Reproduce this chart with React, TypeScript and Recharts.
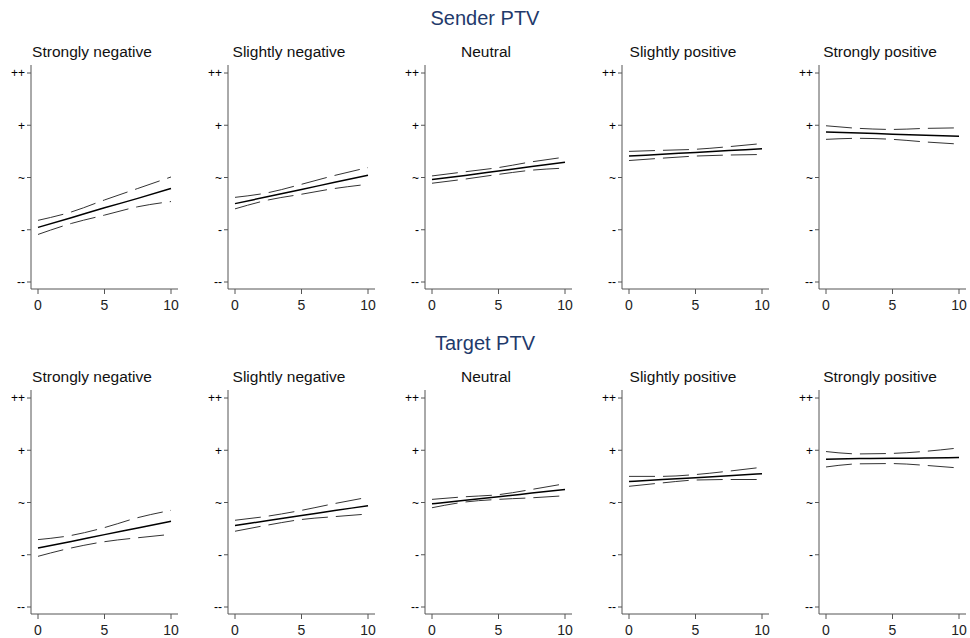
import { LineChart, Line, XAxis, YAxis } from 'recharts'

const xValues = [0, 2.5, 5, 7.5, 10]
const panelNames = ['Strongly negative', 'Slightly negative', 'Neutral', 'Slightly positive', 'Strongly positive']
const yTicks = [-2, -1, 0, 1, 2]
const yLabels = ['--', '-', '~', '+', '++']
const xTicks = [0, 5, 10]

// Sender PTV: fitted line and confidence bounds per panel
const senderFit = [
  [-0.955, -0.77, -0.58, -0.4, -0.21],
  [-0.5, -0.365, -0.23, -0.09, 0.045],
  [-0.04, 0.04, 0.125, 0.21, 0.29],
  [0.41, 0.445, 0.48, 0.515, 0.55],
  [0.87, 0.85, 0.83, 0.81, 0.79],
]
const senderUpper = [
  [-0.82, -0.66, -0.43, -0.21, 0.01],
  [-0.38, -0.29, -0.13, 0.04, 0.19],
  [0.03, 0.11, 0.19, 0.3, 0.39],
  [0.5, 0.52, 0.54, 0.59, 0.65],
  [0.99, 0.94, 0.92, 0.94, 0.95],
]
const senderLower = [
  [-1.09, -0.88, -0.72, -0.56, -0.46],
  [-0.6, -0.43, -0.32, -0.21, -0.13],
  [-0.11, -0.03, 0.06, 0.14, 0.18],
  [0.325, 0.37, 0.41, 0.43, 0.44],
  [0.73, 0.75, 0.73, 0.68, 0.64],
]

// Target PTV
const targetFit = [
  [-0.87, -0.745, -0.615, -0.49, -0.36],
  [-0.44, -0.345, -0.25, -0.155, -0.06],
  [-0.025, 0.045, 0.11, 0.18, 0.25],
  [0.4, 0.44, 0.475, 0.51, 0.55],
  [0.83, 0.84, 0.845, 0.85, 0.86],
]
const targetUpper = [
  [-0.71, -0.63, -0.48, -0.29, -0.15],
  [-0.34, -0.26, -0.15, -0.02, 0.1],
  [0.06, 0.11, 0.15, 0.25, 0.36],
  [0.5, 0.5, 0.535, 0.6, 0.675],
  [0.975, 0.93, 0.94, 0.98, 1.045],
]
const targetLower = [
  [-1.03, -0.87, -0.75, -0.675, -0.61],
  [-0.55, -0.43, -0.325, -0.27, -0.22],
  [-0.1, 0.01, 0.06, 0.09, 0.13],
  [0.31, 0.375, 0.43, 0.44, 0.44],
  [0.68, 0.74, 0.745, 0.71, 0.66],
]

const FONT = '"Liberation Sans", Arial, sans-serif'
const AXIS = '#555'

function Panel({ fit, upper, lower }: { fit: number[]; upper: number[]; lower: number[] }) {
  const data = xValues.map((x, i) => ({ x, fit: fit[i], upper: upper[i], lower: lower[i] }))
  return (
    <LineChart width={174} height={254} data={data} margin={{ top: 5, right: 4, bottom: 0, left: 0 }}>
      <XAxis
        dataKey="x"
        type="number"
        domain={[0, 10]}
        ticks={xTicks}
        padding={{ left: 7, right: 7 }}
        height={25}
        tickSize={5}
        tickMargin={6}
        stroke={AXIS}
        tick={{ fill: '#222', fontSize: 14, fontFamily: FONT }}
      />
      <YAxis
        type="number"
        domain={[-2, 2]}
        ticks={yTicks}
        padding={{ top: 8, bottom: 7 }}
        width={23}
        tickSize={4}
        tickMargin={2}
        stroke={AXIS}
        tickFormatter={(v) => yLabels[yTicks.indexOf(v)]}
        tick={{ fill: '#000', fontSize: 12, fontFamily: FONT }}
      />
      <Line dataKey="upper" type="monotone" stroke="#333" strokeWidth={1} strokeDasharray="26 8" dot={false} isAnimationActive={false} />
      <Line dataKey="lower" type="monotone" stroke="#333" strokeWidth={1} strokeDasharray="26 8" dot={false} isAnimationActive={false} />
      <Line dataKey="fit" type="monotone" stroke="#000" strokeWidth={1.5} dot={false} isAnimationActive={false} />
    </LineChart>
  )
}

function Row({ title, top, fits, uppers, lowers }: { title: string; top: number; fits: number[][]; uppers: number[][]; lowers: number[][] }) {
  return (
    <>
      <div style={{ position: 'absolute', left: 0, top: top, width: 954, textAlign: 'center', fontSize: 20, lineHeight: '24px', color: '#1f3a6b' }}>
        {title}
      </div>
      {panelNames.map((name, c) => (
        <div key={name}>
          <div style={{ position: 'absolute', left: 23 + c * 197 - 20, top: top + 36, width: 162, textAlign: 'center', fontSize: 15.5, lineHeight: '20px', color: '#111' }}>
            {name}
          </div>
          <div style={{ position: 'absolute', left: c * 197, top: top + 54 }}>
            <Panel fit={fits[c]} upper={uppers[c]} lower={lowers[c]} />
          </div>
        </div>
      ))}
    </>
  )
}

export default function App() {
  return (
    <div style={{ position: 'relative', width: 970, height: 638, overflow: 'hidden', fontFamily: FONT, background: '#fff' }}>
      <style>{'body { margin: 0; }'}</style>
      <div style={{ position: 'absolute', left: 8, top: 8, width: 954, height: 622 }}>
        <Row title="Sender PTV" top={-2} fits={senderFit} uppers={senderUpper} lowers={senderLower} />
        <Row title="Target PTV" top={323} fits={targetFit} uppers={targetUpper} lowers={targetLower} />
      </div>
    </div>
  )
}
